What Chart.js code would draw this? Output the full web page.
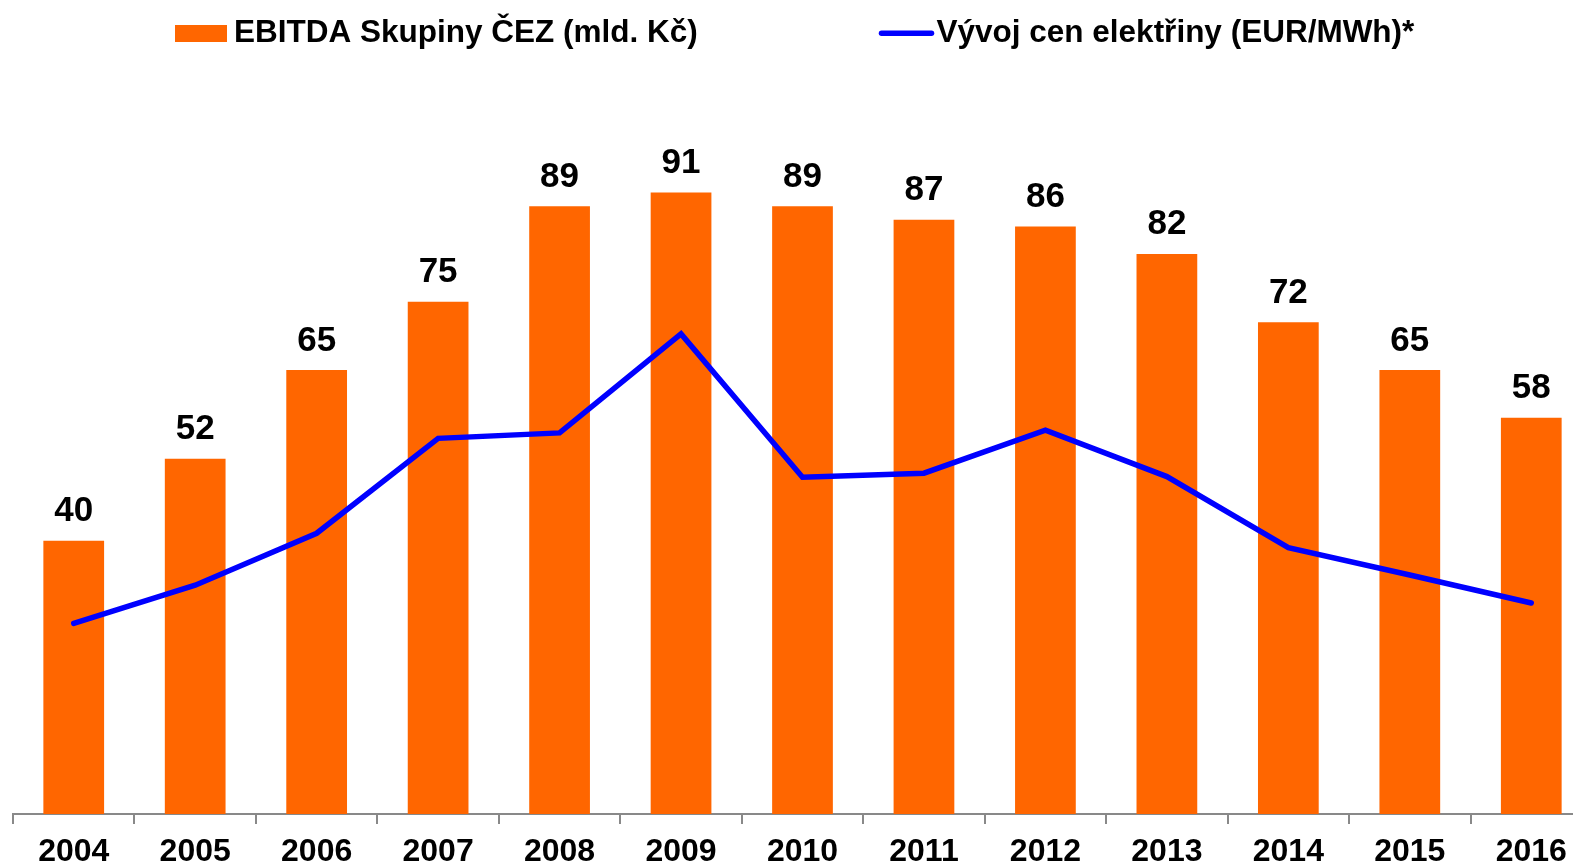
<!DOCTYPE html>
<html>
<head>
<meta charset="utf-8">
<script src="https://cdn.jsdelivr.net/npm/chart.js@4/dist/chart.umd.min.js"></script>
<style>
  html, body { margin: 0; padding: 0; overflow: hidden; background: #ffffff; }
  #wrap { position: relative; width: 1600px; height: 880px; }
</style>
</head>
<body>
<div id="wrap"><canvas id="c"></canvas></div>
<script>
// ---- data ----
const years = ['2004','2005','2006','2007','2008','2009','2010','2011','2012','2013','2014','2015','2016'];
const ebitda = [40, 52, 65, 75, 89, 91, 89, 87, 86, 82, 72, 65, 58];
const powerPrice = [27.9, 33.5, 41.1, 55.0, 55.8, 70.3, 49.3, 49.9, 56.2, 49.4, 39.0, 35.0, 30.9];
const ebitdaLabel = 'EBITDA Skupiny ČEZ (mld. Kč)';
const priceLabel = 'Vývoj cen elektřiny (EUR/MWh)*';

const ORANGE = '#FF6600';
const BLUE = '#0000FF';
const FONT = '"Liberation Sans", Arial, Helvetica, sans-serif';

// custom legend drawn on canvas
const legendPlugin = {
  id: 'customLegend',
  afterDraw(chart) {
    const ctx = chart.ctx;
    ctx.save();
    ctx.font = 'bold 31.5px ' + FONT;
    ctx.fillStyle = '#000';
    ctx.textBaseline = 'alphabetic';
    ctx.textAlign = 'left';
    const bar = chart.data.datasets.find(d => d.type === 'bar');
    const line = chart.data.datasets.find(d => d.type === 'line');
    // item 1: box
    ctx.fillStyle = bar.backgroundColor;
    ctx.fillRect(175, 25, 52, 17);
    ctx.fillStyle = '#000';
    ctx.fillText(bar.label, 234, 42.3);
    // item 2: line
    ctx.strokeStyle = line.borderColor;
    ctx.lineWidth = 5.5;
    ctx.lineCap = 'round';
    ctx.beginPath();
    ctx.moveTo(881.5, 33.3);
    ctx.lineTo(931.5, 33.3);
    ctx.stroke();
    ctx.fillText(line.label, 936.5, 42.3);
    ctx.restore();
  }
};

// value labels above the bars
const barLabelPlugin = {
  id: 'barLabels',
  afterDatasetsDraw(chart) {
    const ctx = chart.ctx;
    chart.data.datasets.forEach((ds, di) => {
      if (ds.type !== 'bar') return;
      const meta = chart.getDatasetMeta(di);
      ctx.save();
      ctx.font = 'bold 35px ' + FONT;
      ctx.fillStyle = '#000';
      ctx.textAlign = 'center';
      ctx.textBaseline = 'alphabetic';
      meta.data.forEach((el, i) => {
        ctx.fillText(String(ds.data[i]), el.x, el.y - 19.5);
      });
      ctx.restore();
    });
  }
};

new Chart(document.getElementById('c'), {
  data: {
    labels: years,
    datasets: [
      {
        type: 'line',
        label: priceLabel,
        data: powerPrice,
        yAxisID: 'y2',
        borderColor: BLUE,
        backgroundColor: BLUE,
        borderWidth: 5.5,
        borderCapStyle: 'round',
        borderJoinStyle: 'miter',
        tension: 0,
        pointRadius: 0,
        pointHoverRadius: 0,
        fill: false,
        order: 0
      },
      {
        type: 'bar',
        label: ebitdaLabel,
        data: ebitda,
        yAxisID: 'y',
        backgroundColor: ORANGE,
        borderWidth: 0,
        categoryPercentage: 1.0,
        barPercentage: 0.5,
        order: 1
      }
    ]
  },
  options: {
    responsive: true,
    maintainAspectRatio: false,
    animation: false,
    devicePixelRatio: 1,
    layout: { padding: { top: 131, left: 13, right: 8, bottom: 0 } },
    plugins: {
      legend: { display: false },
      tooltip: { enabled: false },
      title: { display: false }
    },
    scales: {
      x: {
        offset: true,
        grid: {
          display: true,
          drawOnChartArea: false,
          drawTicks: true,
          tickLength: 10,
          color: '#898989',
          lineWidth: 2,
          offset: true
        },
        border: { display: true, color: '#898989', width: 2 },
        ticks: {
          color: '#000',
          padding: 12,
          maxRotation: 0,
          autoSkip: false,
          font: { family: FONT, size: 32, weight: 'bold', lineHeight: 1 }
        }
      },
      y: {
        display: false,
        min: 0,
        max: 100
      },
      y2: {
        display: false,
        position: 'right',
        min: 0,
        max: 100
      }
    }
  },
  plugins: [barLabelPlugin, legendPlugin]
});
</script>
</body>
</html>
